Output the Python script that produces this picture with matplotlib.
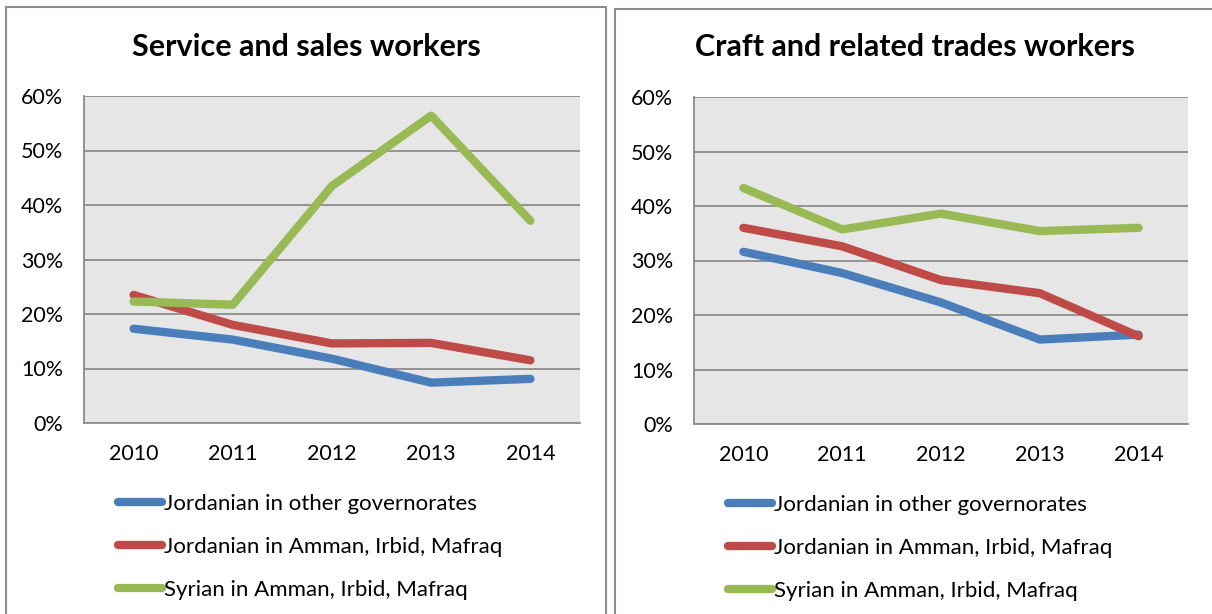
import numpy as np
import matplotlib
matplotlib.use("Agg")
import matplotlib.pyplot as plt
from matplotlib.patches import Rectangle

plt.rcParams['font.family'] = ['Lato', 'DejaVu Sans']

# DATA ---------------------------------------------------------------------------------------------
years = ["2010", "2011", "2012", "2013", "2014"]
series_names = [
    "Jordanian in other governorates",
    "Jordanian in Amman, Irbid, Mafraq",
    "Syrian in Amman, Irbid, Mafraq",
]

# service and sales workers (share, %)
service_jo_other = [17.3, 15.3, 11.8, 7.4, 8.1]
service_jo_aim = [23.5, 18.0, 14.6, 14.7, 11.5]
service_sy_aim = [22.3, 21.7, 43.5, 56.4, 37.1]

# craft and related trades workers (share, %)
craft_jo_other = [31.6, 27.7, 22.3, 15.5, 16.4]
craft_jo_aim = [36.0, 32.6, 26.4, 24.0, 16.1]
craft_sy_aim = [43.3, 35.7, 38.6, 35.4, 36.0]

titles = ["Service and sales workers", "Craft and related trades workers"]
yticks = [0, 10, 20, 30, 40, 50, 60]

colors = ["#4a7ebb", "#be4b48", "#98b954"]

# FIGURE -------------------------------------------------------------------------------------------
W, H = 1212, 614
fig = plt.figure(figsize=(W / 100, H / 100), dpi=100)


def px_rect(x0, y0, x1, y1):
    # pixel box (top-left origin) -> figure fraction [l, b, w, h]
    return [x0 / W, (H - y1) / H, (x1 - x0) / W, (y1 - y0) / H]


def panel(axes_box, title, title_x, data):
    ax = fig.add_axes(px_rect(*axes_box))
    ax.set_facecolor("#e6e6e6")
    x = np.arange(len(years)) + 0.5
    for vals, c, name in zip(data, colors, series_names):
        ax.plot(x, vals, color=c, lw=6, solid_capstyle="round",
                solid_joinstyle="round", label=name, clip_on=False)

    ax.set_xlim(0, len(years))
    ax.set_ylim(0, 60)
    ax.set_xticks(x)
    ax.set_xticklabels(years)
    ax.set_yticks(yticks)
    ax.set_yticklabels([f"{v}%" for v in yticks])
    ax.tick_params(length=0, labelsize=15.5, colors="black")
    ax.tick_params(axis="y", pad=15)
    ax.tick_params(axis="x", pad=15)
    ax.grid(axis="y", color="#8c8c8c", lw=1.3)
    ax.set_axisbelow(True)
    for s in ["top", "right"]:
        ax.spines[s].set_visible(False)
    for s in ["left", "bottom"]:
        ax.spines[s].set_color("#8c8c8c")
        ax.spines[s].set_linewidth(1.3)

    fig.text(title_x / W, (H - 47) / H, title, ha="center", va="center",
             fontsize=22, fontweight="bold")

    ax.legend(loc="upper left", bbox_to_anchor=(0.050, -0.19), frameon=False,
              handlelength=2.0, handletextpad=0.1, labelspacing=1.03,
              fontsize=16, borderaxespad=0)
    return ax


panel((84, 96, 580, 423), titles[0], 306,
      [service_jo_other, service_jo_aim, service_sy_aim])
panel((694, 97, 1188, 424), titles[1], 915,
      [craft_jo_other, craft_jo_aim, craft_sy_aim])

# chart borders
border = dict(fill=False, edgecolor="#8c8c8c", lw=1.5, transform=fig.transFigure)
fig.patches.append(Rectangle((6 / W, -0.05), 600 / W, 1.05 - 7 / H, **border))
fig.patches.append(Rectangle((615 / W, -0.05), 620 / W, 1.05 - 9 / H, **border))

fig.savefig("out.png", dpi=100)
